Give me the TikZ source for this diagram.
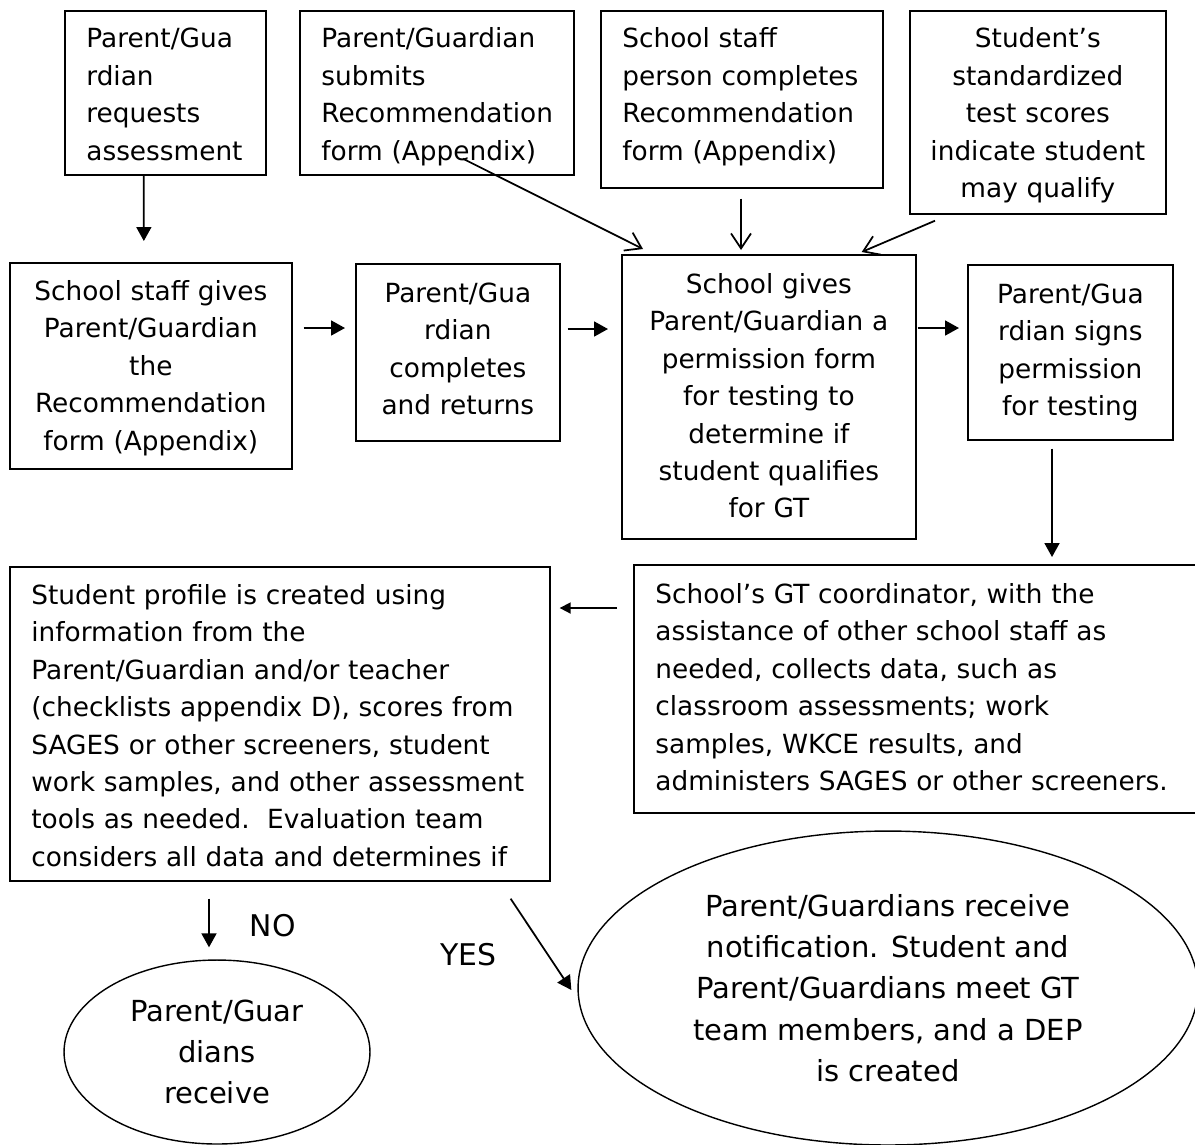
\documentclass[tikz,border=0pt]{standalone}
\usepackage{fontspec}
\setmainfont{DejaVu Sans}
\usetikzlibrary{
    positioning,
    calc,
    shapes.geometric,
    arrows.meta
}
\tikzset{
    stepbox/.style={
        draw,
        line width=1pt,
        anchor=north west,
        inner ysep=0pt,
        font=\fontsize{15}{21.3}\selectfont
    },
    leftbox/.style={stepbox, align=left, inner xsep=0.43cm},
    midbox/.style={stepbox, align=center, inner xsep=0.2cm},
    oval/.style={
        draw,
        ellipse,
        line width=0.8pt,
        align=center,
        inner sep=0pt,
        font=\fontsize{16.5}{23.5}\selectfont
    },
    flow/.style={-{Triangle[length=0.28cm,width=0.3cm]}, line width=1pt},
    flowsmall/.style={-{Triangle[length=0.22cm,width=0.22cm]}, line width=1pt},
    feed/.style={-{Straight Barb[length=0.3cm,width=0.4cm]}, line width=1pt},
    tag/.style={inner sep=0pt, font=\fontsize{17}{20}\selectfont}
}

\begin{document}
\begin{tikzpicture}[
    x=0.02cm,
    y=-0.02cm
]
    \useasboundingbox (0,0) rectangle (1195,1144);

    % Fila superior
    \node[leftbox, text width=3.16cm, text height=0.74cm, text depth=2.54cm]  (req)  at (64,10)  {Parent/Gua\\rdian\\requests\\assessment};
    \node[leftbox, text width=4.62cm, text height=0.74cm, text depth=2.54cm]  (sub)  at (299,10) {Parent/Guardian\\submits\\Recommendation\\form (Appendix)};
    \node[leftbox, text width=4.78cm, text height=0.74cm, text depth=2.80cm]  (rec)  at (600,10) {School staff\\person~completes\\Recommendation\\form~(Appendix)};
    \node[midbox,  text width=4.72cm, text height=0.74cm, text depth=3.32cm]  (tst)  at (909,10) {Student’s\\standardized\\test scores\\indicate student\\may qualify};

    % Fila central
    \node[midbox,  text width=5.24cm, text height=0.75cm, text depth=3.37cm]  (give) at (9,262)   {School staff gives\\Parent/Guardian\\the\\Recommendation\\form (Appendix)};
    \node[midbox,  text width=3.68cm, text height=0.77cm, text depth=2.77cm]  (ret)  at (355,263) {Parent/Gua\\rdian\\completes\\and returns};
    \node[midbox,  text width=5.48cm, text height=0.77cm, text depth=4.91cm]  (perm) at (621,254) {School gives\\Parent/Guardian a\\permission form\\for testing to\\determine if\\student qualifies\\for GT};
    \node[midbox,  text width=3.70cm, text height=0.77cm, text depth=2.73cm]  (sign) at (967,264) {Parent/Gua\\rdian signs\\permission\\for testing};

    % Fila inferior
    \node[leftbox, text width=10.54cm, text height=0.77cm, text depth=4.19cm] (coord) at (633,564) {School’s GT coordinator, with the\\assistance of other school staff as\\needed, collects data, such as\\classroom assessments; work\\samples, WKCE results, and\\administers SAGES or other screeners.};
    \node[leftbox, text width=9.94cm, text height=0.75cm, text depth=5.53cm]  (prof)  at (9,566)   {Student profile is created using\\information from the\\Parent/Guardian and/or teacher\\(checklists appendix D), scores from\\SAGES or other screeners, student\\work~samples,~and~other~assessment\\tools as needed.~~Evaluation team\\considers all data and determines if};

    % Elipses
    \node[oval, minimum width=6.12cm, minimum height=3.68cm]  (notq) at (217,1052) {Parent/Guar\\dians\\receive};
    \node[oval, minimum width=12.4cm, minimum height=6.28cm]  (qual) at (888,988)  {Parent/Guardians receive\\notification. Student and\\Parent/Guardians meet GT\\team members, and a DEP\\is created};

    % Flechas
    \path[flow]
        ($(req.south)+(-21.5,0)$)       edge ($(give.north)+(-7,-21)$)
        ($(give.north east)+(11,66)$)   edge ($(ret.north west)+(-10,65)$)
        ($(ret.north east)+(7,66)$)     edge ($(perm.north west)+(-13,75)$)
        ($(perm.north east)+(1,74)$)    edge ($(sign.north west)+(-8,64)$)
        ($(sign.south west)+(85,8)$)    edge ($(coord.north west)+(419,-7)$)
        ($(prof.south west)+(200,17)$)
            edge node[tag, pos=0.55, right=0.8cm] (nolbl) {NO} ($(notq.north)+(-8,-12)$)
        ($(prof.south east)+(-40,17)$)
            edge node[tag, pos=0.61, left=1.0cm] (yeslbl) {YES} ($(qual.west)+(-6,2)$);

    \path[flowsmall]
        ($(coord.north west)+(-16,44)$) edge ($(prof.north east)+(9,42)$);

    \path[feed]
        ($(sub.south west)+(164,-17)$)  edge ($(perm.north west)+(22,-5)$)
        ($(rec.south west)+(141,10)$)   edge ($(perm.north west)+(120,-4)$)
        ($(tst.south west)+(26,6)$)     edge ($(perm.north east)+(-55,-2)$);

\end{tikzpicture}
\end{document}
